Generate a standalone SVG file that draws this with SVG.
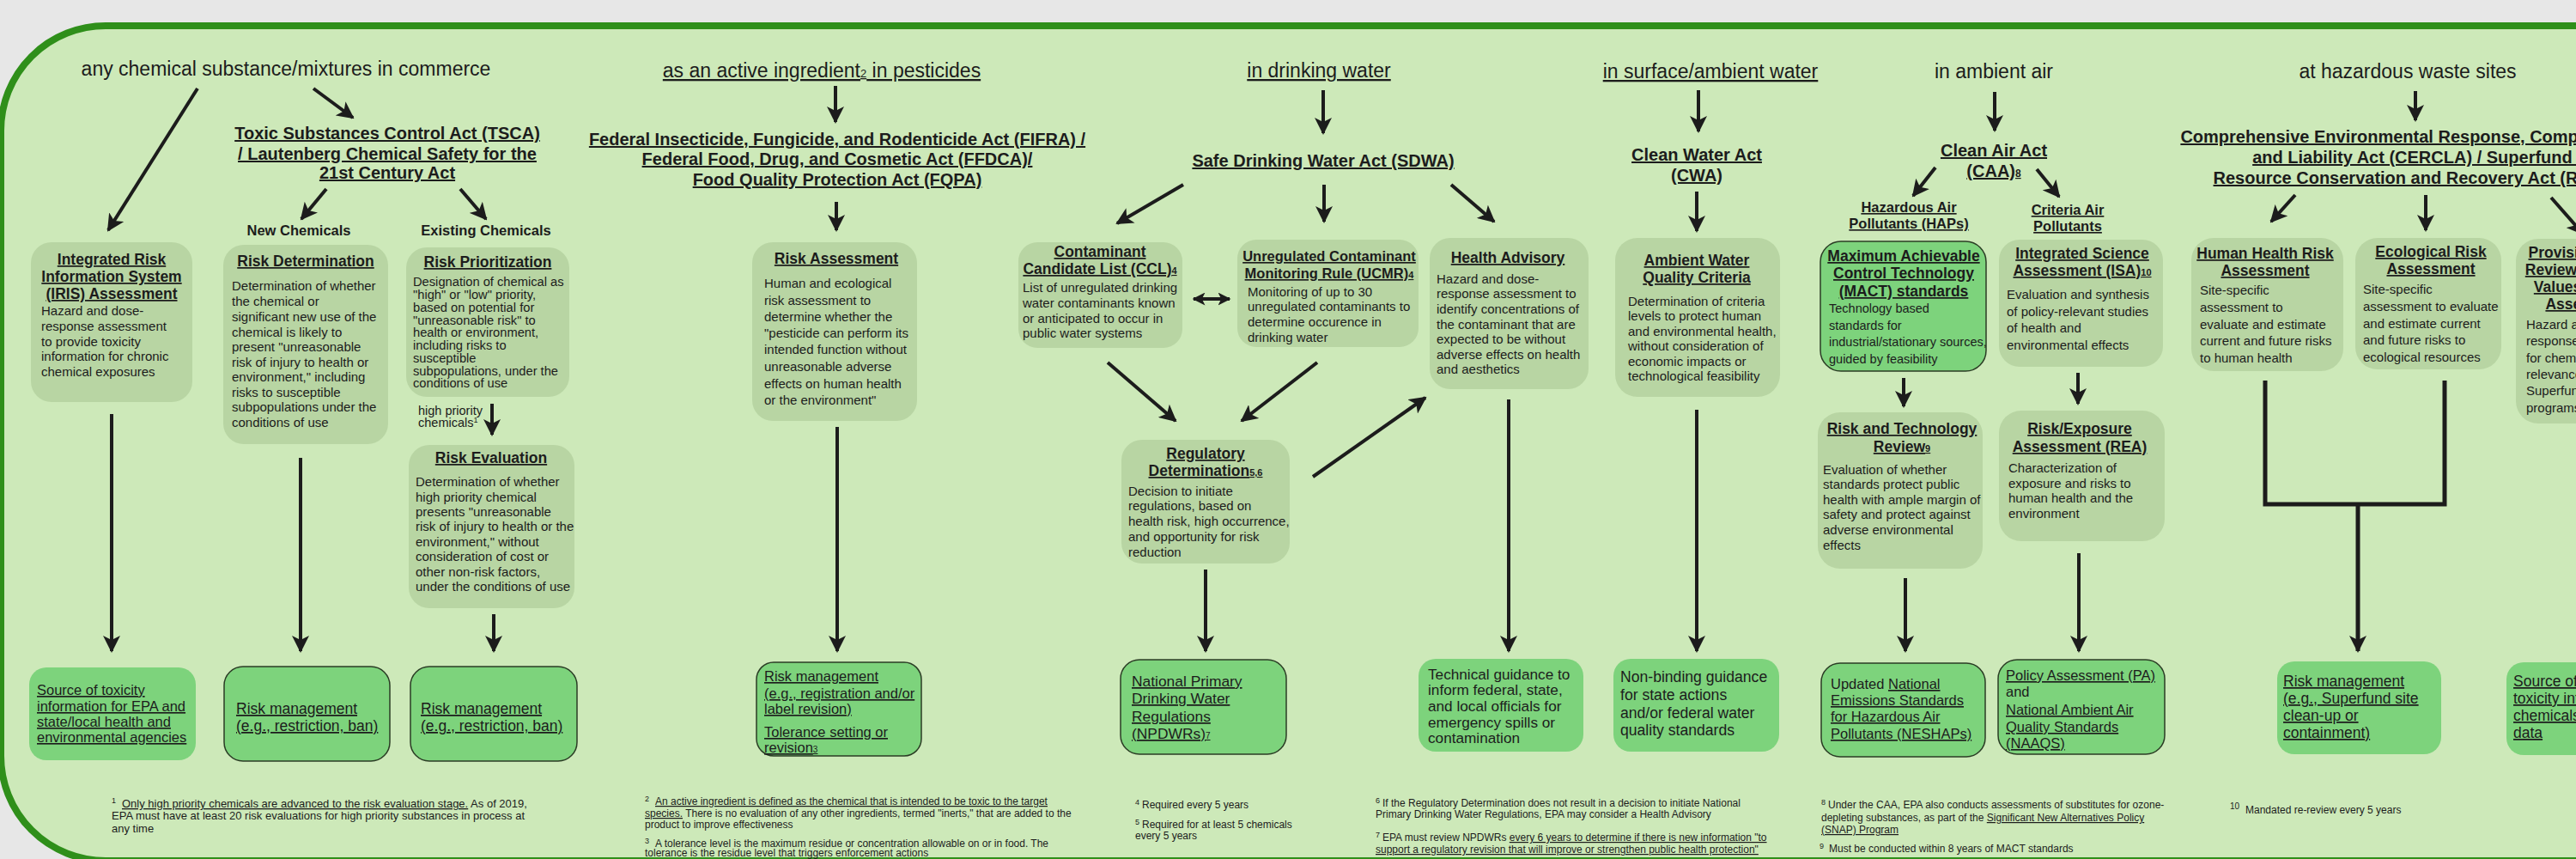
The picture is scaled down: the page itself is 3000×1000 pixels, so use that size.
<svg xmlns="http://www.w3.org/2000/svg" width="3000" height="1000" viewBox="0 0 3000 1000">
<defs>
<marker id="ah" viewBox="0 0 20 20" refX="18" refY="10" markerWidth="20" markerHeight="20" markerUnits="userSpaceOnUse" orient="auto-start-reverse"><path d="M0,0 L20,10 L0,20 L5,10 Z" fill="#1c1c1c"/></marker>
<marker id="ahs" viewBox="0 0 20 20" refX="18" refY="10" markerWidth="15" markerHeight="15" markerUnits="userSpaceOnUse" orient="auto-start-reverse"><path d="M0,0 L20,10 L0,20 L5,10 Z" fill="#1c1c1c"/></marker>
<style>
text{font-family:"Liberation Sans",Arial,Helvetica,sans-serif;fill:#1c1c1c}
.row{font-size:23px;text-anchor:middle}
.act{font-size:20px;font-weight:bold;text-decoration:underline;text-anchor:middle}
.sub{font-size:16.5px;font-weight:bold;text-decoration:underline;text-anchor:middle}
.hd{font-size:16.5px;font-weight:bold;text-anchor:middle}
.nt{font-size:17.5px;font-weight:bold;text-decoration:underline;text-anchor:middle}
.b{font-size:15px}
.g{font-size:17px}
.u{text-decoration:underline}
.fn{font-size:12px}
.gray{fill:#b8d5a3}
.grn{fill:#7dd37c}
.ol{stroke:#2b3d25;stroke-width:1.5}
#connectors line,#connectors polyline{stroke:#1c1c1c;stroke-width:4;fill:none}
</style>
</defs>
<rect x="0" y="0" width="3000" height="1000" fill="#e7e7e7"/>
<rect id="panel" x="1" y="30" width="3200" height="972" rx="122" fill="#cde9b9" stroke="#2f8f1a" stroke-width="8"/>

<g id="row-titles">
<text class="row" x="333" y="88">any chemical substance/mixtures in commerce</text>
<text class="row u" x="957" y="90">as an active ingredient<tspan font-size="13">2</tspan> in pesticides</text>
<text class="row u" x="1536" y="90">in drinking water</text>
<text class="row u" x="1992" y="91">in surface/ambient water</text>
<text class="row" x="2322" y="91">in ambient air</text>
<text class="row" x="2804" y="91">at hazardous waste sites</text>
</g>

<g id="acts">
<text class="act"><tspan x="451" y="162">Toxic Substances Control Act (TSCA)</tspan><tspan x="451" y="186">/ Lautenberg Chemical Safety for the</tspan><tspan x="451" y="208">21st Century Act</tspan></text>
<text class="act"><tspan x="975" y="169">Federal Insecticide, Fungicide, and Rodenticide Act (FIFRA) /</tspan><tspan x="975" y="192">Federal Food, Drug, and Cosmetic Act (FFDCA)/</tspan><tspan x="975" y="216">Food Quality Protection Act (FQPA)</tspan></text>
<text class="act" x="1541" y="194">Safe Drinking Water Act (SDWA)</text>
<text class="act"><tspan x="1976" y="187">Clean Water Act</tspan><tspan x="1976" y="211">(CWA)</tspan></text>
<text class="act"><tspan x="2322" y="182">Clean Air Act</tspan><tspan x="2322" y="206">(CAA)<tspan font-size="12">8</tspan></tspan></text>
<text class="act"><tspan x="2815" y="166">Comprehensive Environmental Response, Compensation,</tspan><tspan x="2815" y="190">and Liability Act (CERCLA) / Superfund /</tspan><tspan x="2815" y="214">Resource Conservation and Recovery Act (RCRA)</tspan></text>
</g>

<g id="labels">
<text class="hd" x="348" y="274">New Chemicals</text>
<text class="hd" x="566" y="274">Existing Chemicals</text>
<text style="font-size:14.5px"><tspan x="487" y="483">high priority</tspan><tspan x="487" y="497">chemicals<tspan font-size="9" dy="-5">1</tspan></tspan></text>
<text class="sub"><tspan x="2223" y="247">Hazardous Air</tspan><tspan x="2223" y="266">Pollutants (HAPs)</tspan></text>
<text class="sub"><tspan x="2408" y="250">Criteria Air</tspan><tspan x="2408" y="269">Pollutants</tspan></text>
</g>

<g id="iris">
<rect class="gray" x="36" y="282" width="188" height="186" rx="24"/>
<text class="nt"><tspan x="130" y="308">Integrated Risk</tspan><tspan x="130" y="328">Information System</tspan><tspan x="130" y="348">(IRIS) Assessment</tspan></text>
<text class="b"><tspan x="48" y="367">Hazard and dose-</tspan><tspan x="48" y="385">response assessment</tspan><tspan x="48" y="403">to provide toxicity</tspan><tspan x="48" y="420">information for chronic</tspan><tspan x="48" y="438">chemical exposures</tspan></text>
</g>

<g id="risk-determination">
<rect class="gray" x="260" y="285" width="192" height="232" rx="24"/>
<text class="nt" x="356" y="310">Risk Determination</text>
<text class="b"><tspan x="270" y="338">Determination of whether</tspan><tspan x="270" y="356">the chemical or</tspan><tspan x="270" y="374">significant new use of the</tspan><tspan x="270" y="392">chemical is likely to</tspan><tspan x="270" y="409">present "unreasonable</tspan><tspan x="270" y="427">risk of injury to health or</tspan><tspan x="270" y="444">environment," including</tspan><tspan x="270" y="462">risks to susceptible</tspan><tspan x="270" y="479">subpopulations under the</tspan><tspan x="270" y="497">conditions of use</tspan></text>
</g>

<g id="risk-prioritization">
<rect class="gray" x="473" y="288" width="190" height="174" rx="24"/>
<text class="nt" x="568" y="311">Risk Prioritization</text>
<text style="font-size:14.7px"><tspan x="481" y="333">Designation of chemical as</tspan><tspan x="481" y="348">"high" or "low" priority,</tspan><tspan x="481" y="363">based on potential for</tspan><tspan x="481" y="378">"unreasonable risk" to</tspan><tspan x="481" y="392">health or environment,</tspan><tspan x="481" y="407">including risks to</tspan><tspan x="481" y="422">susceptible</tspan><tspan x="481" y="437">subpopulations, under the</tspan><tspan x="481" y="451">conditions of use</tspan></text>
</g>

<g id="risk-evaluation">
<rect class="gray" x="476" y="518" width="193" height="190" rx="24"/>
<text class="nt" x="572" y="539">Risk Evaluation</text>
<text class="b"><tspan x="484" y="566">Determination of whether</tspan><tspan x="484" y="584">high priority chemical</tspan><tspan x="484" y="601">presents "unreasonable</tspan><tspan x="484" y="618">risk of injury to health or the</tspan><tspan x="484" y="636">environment," without</tspan><tspan x="484" y="653">consideration of cost or</tspan><tspan x="484" y="671">other non-risk factors,</tspan><tspan x="484" y="688">under the conditions of use</tspan></text>
</g>

<g id="risk-assessment">
<rect class="gray" x="876" y="282" width="192" height="208" rx="24"/>
<text class="nt" x="974" y="307">Risk Assessment</text>
<text class="b"><tspan x="890" y="335">Human and ecological</tspan><tspan x="890" y="355">risk assessment to</tspan><tspan x="890" y="374">determine whether the</tspan><tspan x="890" y="393">"pesticide can perform its</tspan><tspan x="890" y="412">intended function without</tspan><tspan x="890" y="432">unreasonable adverse</tspan><tspan x="890" y="452">effects on human health</tspan><tspan x="890" y="471">or the environment"</tspan></text>
</g>

<g id="ccl">
<rect class="gray" x="1186" y="282" width="191" height="123" rx="22"/>
<text class="nt"><tspan x="1281" y="299">Contaminant</tspan><tspan x="1281" y="319">Candidate List (CCL)<tspan font-size="11">4</tspan></tspan></text>
<text class="b"><tspan x="1191" y="340">List of unregulated drinking</tspan><tspan x="1191" y="358">water contaminants known</tspan><tspan x="1191" y="376">or anticipated to occur in</tspan><tspan x="1191" y="393">public water systems</tspan></text>
</g>

<g id="ucmr">
<rect class="gray" x="1441" y="279" width="211" height="125" rx="22"/>
<text class="nt" style="font-size:16.5px"><tspan x="1548" y="304">Unregulated Contaminant</tspan><tspan x="1548" y="324">Monitoring Rule (UCMR)<tspan font-size="11">4</tspan></tspan></text>
<text class="b"><tspan x="1453" y="345">Monitoring of up to 30</tspan><tspan x="1453" y="362">unregulated contaminants to</tspan><tspan x="1453" y="380">determine occurence in</tspan><tspan x="1453" y="398">drinking water</tspan></text>
</g>

<g id="health-advisory">
<rect class="gray" x="1665" y="277" width="185" height="176" rx="24"/>
<text class="nt" x="1756" y="306">Health Advisory</text>
<text class="b"><tspan x="1673" y="330">Hazard and dose-</tspan><tspan x="1673" y="347">response assessment to</tspan><tspan x="1673" y="365">identify concentrations of</tspan><tspan x="1673" y="383">the contaminant that are</tspan><tspan x="1673" y="400">expected to be without</tspan><tspan x="1673" y="418">adverse effects on health</tspan><tspan x="1673" y="435">and aesthetics</tspan></text>
</g>

<g id="regulatory-determination">
<rect class="gray" x="1306" y="512" width="196" height="144" rx="24"/>
<text class="nt"><tspan x="1404" y="534">Regulatory</tspan><tspan x="1404" y="554">Determination<tspan font-size="11">5,6</tspan></tspan></text>
<text class="b"><tspan x="1314" y="577">Decision to initiate</tspan><tspan x="1314" y="594">regulations, based on</tspan><tspan x="1314" y="612">health risk, high occurrence,</tspan><tspan x="1314" y="630">and opportunity for risk</tspan><tspan x="1314" y="648">reduction</tspan></text>
</g>

<g id="awqc">
<rect class="gray" x="1881" y="277" width="192" height="185" rx="26"/>
<text class="nt"><tspan x="1976" y="309">Ambient Water</tspan><tspan x="1976" y="329">Quality Criteria</tspan></text>
<text class="b"><tspan x="1896" y="356">Determination of criteria</tspan><tspan x="1896" y="373">levels to protect human</tspan><tspan x="1896" y="391">and environmental health,</tspan><tspan x="1896" y="408">without consideration of</tspan><tspan x="1896" y="426">economic impacts or</tspan><tspan x="1896" y="443">technological feasibility</tspan></text>
</g>

<g id="mact">
<rect class="grn ol" x="2120" y="281" width="193" height="151" rx="24"/>
<text class="nt"><tspan x="2217" y="304">Maximum Achievable</tspan><tspan x="2217" y="324">Control Technology</tspan><tspan x="2217" y="345">(MACT) standards</tspan></text>
<text style="font-size:14.5px"><tspan x="2130" y="364">Technology based</tspan><tspan x="2130" y="384">standards for</tspan><tspan x="2130" y="403">industrial/stationary sources,</tspan><tspan x="2130" y="423">guided by feasibility</tspan></text>
</g>

<g id="isa">
<rect class="gray" x="2328" y="279" width="191" height="148" rx="24"/>
<text class="nt"><tspan x="2425" y="301">Integrated Science</tspan><tspan x="2425" y="321">Assessment (ISA)<tspan font-size="11">10</tspan></tspan></text>
<text class="b"><tspan x="2337" y="348">Evaluation and synthesis</tspan><tspan x="2337" y="368">of policy-relevant studies</tspan><tspan x="2337" y="387">of health and</tspan><tspan x="2337" y="407">environmental effects</tspan></text>
</g>

<g id="rtr">
<rect class="gray" x="2117" y="480" width="192" height="182" rx="26"/>
<text class="nt"><tspan x="2215" y="505">Risk and Technology</tspan><tspan x="2215" y="526">Review<tspan font-size="11">9</tspan></tspan></text>
<text class="b"><tspan x="2123" y="552">Evaluation of whether</tspan><tspan x="2123" y="569">standards protect public</tspan><tspan x="2123" y="587">health with ample margin of</tspan><tspan x="2123" y="604">safety and protect against</tspan><tspan x="2123" y="622">adverse environmental</tspan><tspan x="2123" y="640">effects</tspan></text>
</g>

<g id="rea">
<rect class="gray" x="2328" y="478" width="193" height="152" rx="26"/>
<text class="nt"><tspan x="2422" y="505">Risk/Exposure</tspan><tspan x="2422" y="526">Assessment (REA)</tspan></text>
<text class="b"><tspan x="2339" y="550">Characterization of</tspan><tspan x="2339" y="568">exposure and risks to</tspan><tspan x="2339" y="585">human health and the</tspan><tspan x="2339" y="603">environment</tspan></text>
</g>

<g id="human-health">
<rect class="gray" x="2552" y="277" width="177" height="155" rx="26"/>
<text class="nt"><tspan x="2638" y="301">Human Health Risk</tspan><tspan x="2638" y="321">Assessment</tspan></text>
<text class="b"><tspan x="2562" y="343">Site-specific</tspan><tspan x="2562" y="363">assessment to</tspan><tspan x="2562" y="383">evaluate and estimate</tspan><tspan x="2562" y="402">current and future risks</tspan><tspan x="2562" y="422">to human health</tspan></text>
</g>

<g id="ecological">
<rect class="gray" x="2743" y="277" width="170" height="153" rx="26"/>
<text class="nt"><tspan x="2831" y="299">Ecological Risk</tspan><tspan x="2831" y="319">Assessment</tspan></text>
<text class="b"><tspan x="2752" y="342">Site-specific</tspan><tspan x="2752" y="362">assessment to evaluate</tspan><tspan x="2752" y="382">and estimate current</tspan><tspan x="2752" y="401">and future risks to</tspan><tspan x="2752" y="421">ecological resources</tspan></text>
</g>

<g id="pprtv">
<rect class="gray" x="2930" y="278" width="180" height="215" rx="26"/>
<text class="nt"><tspan x="3016" y="300">Provisional Peer-</tspan><tspan x="3016" y="320">Reviewed Toxicity</tspan><tspan x="3016" y="340">Values (PPRTV)</tspan><tspan x="3016" y="360">Assessment</tspan></text>
<text class="b"><tspan x="2942" y="383">Hazard and dose-</tspan><tspan x="2942" y="402">response assessment</tspan><tspan x="2942" y="422">for chemicals of</tspan><tspan x="2942" y="441">relevance to the</tspan><tspan x="2942" y="460">Superfund</tspan><tspan x="2942" y="480">programs</tspan></text>
</g>

<g id="source-left">
<rect class="grn" x="34" y="777" width="194" height="108" rx="20"/>
<text class="u" style="font-size:16.5px"><tspan x="43" y="809">Source of toxicity</tspan><tspan x="43" y="828">information for EPA and</tspan><tspan x="43" y="846">state/local health and</tspan><tspan x="43" y="864">environmental agencies</tspan></text>
</g>

<g id="rm-new">
<rect class="grn ol" x="261" y="776" width="193" height="110" rx="22"/>
<text class="u" style="font-size:17.5px"><tspan x="275" y="831">Risk management</tspan><tspan x="275" y="851">(e.g., restriction, ban)</tspan></text>
</g>

<g id="rm-existing">
<rect class="grn ol" x="478" y="776" width="194" height="110" rx="22"/>
<text class="u" style="font-size:17.5px"><tspan x="490" y="831">Risk management</tspan><tspan x="490" y="851">(e.g., restriction, ban)</tspan></text>
</g>

<g id="rm-fifra">
<rect class="grn ol" x="881" y="771" width="192" height="109" rx="20"/>
<text class="u" style="font-size:16.5px"><tspan x="890" y="793">Risk management</tspan><tspan x="890" y="813">(e.g., registration and/or</tspan><tspan x="890" y="831">label revision)</tspan><tspan x="890" y="858">Tolerance setting or</tspan><tspan x="890" y="876">revision<tspan font-size="10">3</tspan></tspan></text>
</g>

<g id="npdwr">
<rect class="grn ol" x="1305" y="768" width="193" height="110" rx="22"/>
<text class="u" style="font-size:17.4px"><tspan x="1318" y="799">National Primary</tspan><tspan x="1318" y="819">Drinking Water</tspan><tspan x="1318" y="840">Regulations</tspan><tspan x="1318" y="860">(NPDWRs)<tspan font-size="10">7</tspan></tspan></text>
</g>

<g id="technical-guidance">
<rect class="grn" x="1652" y="767" width="192" height="108" rx="20"/>
<text style="font-size:17.2px"><tspan x="1663" y="791">Technical guidance to</tspan><tspan x="1663" y="809">inform federal, state,</tspan><tspan x="1663" y="828">and local officials for</tspan><tspan x="1663" y="847">emergency spills or</tspan><tspan x="1663" y="865">contamination</tspan></text>
</g>

<g id="non-binding">
<rect class="grn" x="1879" y="767" width="193" height="108" rx="20"/>
<text style="font-size:17.6px"><tspan x="1887" y="794">Non-binding guidance</tspan><tspan x="1887" y="815">for state actions</tspan><tspan x="1887" y="836">and/or federal water</tspan><tspan x="1887" y="856">quality standards</tspan></text>
</g>

<g id="neshap">
<rect class="grn ol" x="2121" y="772" width="191" height="109" rx="22"/>
<text style="font-size:16.5px"><tspan x="2132" y="802">Updated <tspan class="u">National</tspan></tspan><tspan class="u" x="2132" y="821">Emissions Standards</tspan><tspan class="u" x="2132" y="840">for Hazardous Air</tspan><tspan class="u" x="2132" y="860">Pollutants (NESHAPs)</tspan></text>
</g>

<g id="pa-naaqs">
<rect class="grn ol" x="2327" y="768" width="194" height="110" rx="22"/>
<text style="font-size:16.5px"><tspan class="u" x="2336" y="792">Policy Assessment (PA)</tspan><tspan x="2336" y="811">and</tspan><tspan class="u" x="2336" y="832">National Ambient Air</tspan><tspan class="u" x="2336" y="852">Quality Standards</tspan><tspan class="u" x="2336" y="871">(NAAQS)</tspan></text>
</g>

<g id="rm-superfund">
<rect class="grn" x="2652" y="770" width="191" height="108" rx="20"/>
<text class="u" style="font-size:17.5px"><tspan x="2659" y="799">Risk management</tspan><tspan x="2659" y="819">(e.g., Superfund site</tspan><tspan x="2659" y="839">clean-up or</tspan><tspan x="2659" y="859">containment)</tspan></text>
</g>

<g id="source-right">
<rect class="grn" x="2919" y="771" width="180" height="108" rx="20"/>
<text class="u" style="font-size:17.5px"><tspan x="2927" y="799">Source of</tspan><tspan x="2927" y="819">toxicity information</tspan><tspan x="2927" y="839">chemicals lacking</tspan><tspan x="2927" y="859">data</tspan></text>
</g>

<g id="connectors">
<line x1="230" y1="103" x2="126" y2="268" marker-end="url(#ah)"/>
<line x1="365" y1="103" x2="411" y2="137" marker-end="url(#ah)"/>
<line x1="380" y1="220" x2="351" y2="255" marker-end="url(#ah)"/>
<line x1="536" y1="220" x2="566" y2="255" marker-end="url(#ah)"/>
<line x1="573" y1="470" x2="573" y2="506" marker-end="url(#ah)"/>
<line x1="130" y1="482" x2="130" y2="758" marker-end="url(#ah)"/>
<line x1="350" y1="533" x2="350" y2="758" marker-end="url(#ah)"/>
<line x1="575" y1="715" x2="575" y2="758" marker-end="url(#ah)"/>
<line x1="973" y1="100" x2="973" y2="142" marker-end="url(#ah)"/>
<line x1="974" y1="235" x2="974" y2="268" marker-end="url(#ah)"/>
<line x1="975" y1="497" x2="975" y2="758" marker-end="url(#ah)"/>
<line x1="1541" y1="105" x2="1541" y2="155" marker-end="url(#ah)"/>
<line x1="1378" y1="215" x2="1301" y2="260" marker-end="url(#ah)"/>
<line x1="1542" y1="215" x2="1542" y2="258" marker-end="url(#ah)"/>
<line x1="1690" y1="215" x2="1740" y2="258" marker-end="url(#ah)"/>
<line x1="1390" y1="348" x2="1432" y2="348" marker-start="url(#ahs)" marker-end="url(#ahs)"/>
<line x1="1290" y1="422" x2="1369" y2="490" marker-end="url(#ah)"/>
<line x1="1534" y1="422" x2="1446" y2="490" marker-end="url(#ah)"/>
<line x1="1529" y1="555" x2="1660" y2="463" marker-end="url(#ah)"/>
<line x1="1404" y1="663" x2="1404" y2="758" marker-end="url(#ah)"/>
<line x1="1757" y1="465" x2="1757" y2="758" marker-end="url(#ah)"/>
<line x1="1978" y1="105" x2="1978" y2="153" marker-end="url(#ah)"/>
<line x1="1976" y1="223" x2="1976" y2="269" marker-end="url(#ah)"/>
<line x1="1976" y1="477" x2="1976" y2="758" marker-end="url(#ah)"/>
<line x1="2323" y1="107" x2="2323" y2="152" marker-end="url(#ah)"/>
<line x1="2254" y1="195" x2="2228" y2="228" marker-end="url(#ah)"/>
<line x1="2372" y1="197" x2="2398" y2="229" marker-end="url(#ah)"/>
<line x1="2217" y1="440" x2="2217" y2="473" marker-end="url(#ah)"/>
<line x1="2420" y1="434" x2="2420" y2="470" marker-end="url(#ah)"/>
<line x1="2219" y1="673" x2="2219" y2="758" marker-end="url(#ah)"/>
<line x1="2421" y1="644" x2="2421" y2="758" marker-end="url(#ah)"/>
<line x1="2813" y1="106" x2="2813" y2="140" marker-end="url(#ah)"/>
<line x1="2673" y1="227" x2="2645" y2="258" marker-end="url(#ah)"/>
<line x1="2825" y1="227" x2="2825" y2="268" marker-end="url(#ah)"/>
<line x1="2971" y1="230" x2="3008" y2="272" marker-end="url(#ah)"/>
<polyline points="2638,443 2638,587 2847,587 2847,443" style="stroke-width:5"/>
<line x1="2746" y1="587" x2="2746" y2="758" style="stroke-width:5" marker-end="url(#ah)"/>
</g>

<g id="footnotes" class="fn">
<text style="font-size:13px"><tspan x="130" y="935" font-size="9">1</tspan><tspan x="142" y="940" class="u">Only high priority chemicals are advanced to the risk evaluation stage.</tspan><tspan> As of 2019,</tspan><tspan x="130" y="954">EPA must have at least 20 risk evaluations for high priority substances in process at</tspan><tspan x="130" y="969">any time</tspan></text>
<text class="fn"><tspan x="751" y="933" font-size="9">2</tspan><tspan x="763" y="937" class="u">An active ingredient is defined as the chemical that is intended to be toxic to the target</tspan><tspan x="751" y="951" class="u">species.</tspan><tspan> There is no evaluation of any other ingredients, termed "inerts," that are added to the</tspan><tspan x="751" y="964">product to improve effectiveness</tspan></text>
<text class="fn"><tspan x="751" y="982" font-size="9">3</tspan><tspan x="763" y="986">A tolerance level is the maximum residue or concentration allowable on or in food. The</tspan><tspan x="751" y="997">tolerance is the residue level that triggers enforcement actions</tspan></text>
<text class="fn"><tspan x="1322" y="937" font-size="9">4</tspan><tspan x="1330" y="941">Required every 5 years</tspan></text>
<text class="fn"><tspan x="1322" y="960" font-size="9">5</tspan><tspan x="1330" y="964">Required for at least 5 chemicals</tspan><tspan x="1322" y="977">every 5 years</tspan></text>
<text class="fn"><tspan x="1602" y="935" font-size="9">6</tspan><tspan x="1610" y="939">If the Regulatory Determination does not result in a decision to initiate National</tspan><tspan x="1602" y="952">Primary Drinking Water Regulations, EPA may consider a Health Advisory</tspan></text>
<text class="fn"><tspan x="1602" y="975" font-size="9">7</tspan><tspan x="1610" y="979">EPA must review NPDWRs </tspan><tspan class="u">every 6 years to determine if there is new information "to</tspan><tspan x="1602" y="993" class="u">support a regulatory revision that will improve or strengthen public health protection"</tspan></text>
<text class="fn"><tspan x="2121" y="937" font-size="9">8</tspan><tspan x="2129" y="941">Under the CAA, EPA also conducts assessments of substitutes for ozone-</tspan><tspan x="2121" y="956">depleting substances, as part of the </tspan><tspan class="u">Significant New Alternatives Policy</tspan><tspan x="2121" y="970" class="u">(SNAP) Program</tspan></text>
<text class="fn"><tspan x="2119" y="988" font-size="9">9</tspan><tspan x="2130" y="992">Must be conducted within 8 years of MACT standards</tspan></text>
<text class="fn"><tspan x="2597" y="942" font-size="10">10</tspan><tspan x="2615" y="947">Mandated re-review every 5 years</tspan></text>
</g>
</svg>
